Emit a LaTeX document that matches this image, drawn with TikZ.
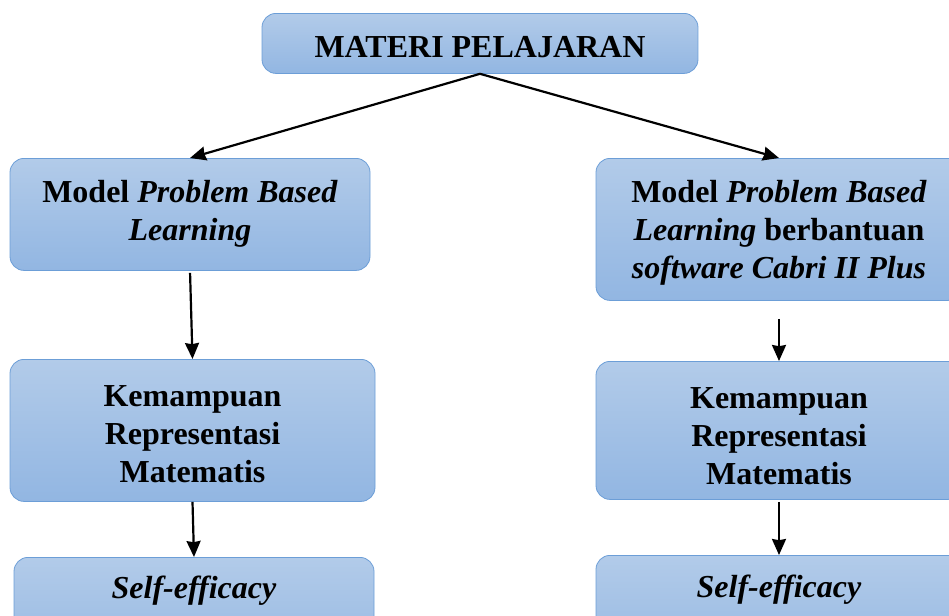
\documentclass[tikz,border=0pt]{standalone}
\usepackage{fontspec}
\setmainfont{Liberation Serif}
\usetikzlibrary{arrows.meta,positioning,calc}

\definecolor{boxtop}{RGB}{178,203,233}
\definecolor{boxbot}{RGB}{146,182,226}
\definecolor{boxline}{RGB}{108,158,215}

\begin{document}
\begin{tikzpicture}[x=0.5pt, y=-0.5pt,
    box/.style={rectangle, rounded corners=7pt, draw=boxline, top color=boxtop, bottom color=boxbot, align=center, anchor=north, inner ysep=0pt, font=\fontsize{16}{19}\selectfont\bfseries},
    arrow/.style={-{Stealth[length=8pt, width=7pt, inset=0.6pt]}, line width=1.1pt}]

% Page frame, boxes at the edges are cut off
\useasboundingbox (0,0) rectangle (949,616);
\clip (0,0) rectangle (949,616);

% Top
\node[box, minimum width=218pt, text height=22pt, text depth=8pt] (materi) at (480,13) {MATERI PELAJARAN};

% Treatment models
\node[box, minimum width=180pt, text height=41pt, text depth=15pt] (pbl) at (190,158)
    {Model \textit{Problem Based}\\\textit{Learning}};
\node[box, minimum width=183pt, text height=60pt, text depth=11pt] (pblcabri) at (779,158)
    {Model \textit{Problem Based}\\\textit{Learning} berbantuan\\\textit{software Cabri II Plus}};

% Representation ability
\node[box, minimum width=182.5pt, text height=61.5pt, text depth=9.5pt] (repA) at (192.5,359)
    {Kemampuan\\Representasi\\Matematis};
\node[box, minimum width=183pt, text height=61.5pt, text depth=7.5pt] (repB) at (779,361)
    {Kemampuan\\Representasi\\Matematis};

% Self-efficacy (bottom, cut off by the page)
\node[box, minimum width=180pt, text height=20.5pt, text depth=40pt] (seA) at (194,557)
    {\textit{Self-efficacy}};
\node[box, minimum width=183pt, text height=21pt, text depth=40pt] (seB) at (779,555)
    {\textit{Self-efficacy}};

% Arrows
\draw[arrow] (materi.south) -- (pbl.north);
\draw[arrow] (materi.south) -- (pblcabri.north);
\draw[arrow, shorten <=1pt] (pbl.south) -- (repA.north);
\draw[arrow, shorten <=9pt] (pblcabri.south) -- (repB.north);
\draw[arrow] (repA.south) -- (seA.north);
\draw[arrow, shorten <=1pt] (repB.south) -- (seB.north);

\end{tikzpicture}
\end{document}
